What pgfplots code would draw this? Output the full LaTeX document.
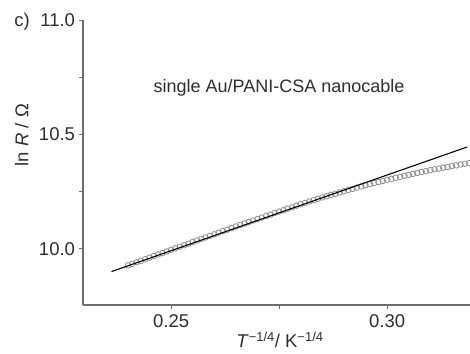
\documentclass[border=0pt]{standalone}
\usepackage{pgfplots}
\pgfplotsset{compat=1.18}
\usepackage{fontspec}
\setmainfont{Liberation Sans}
\definecolor{axisgray}{HTML}{6E6E6E}
\definecolor{labelgray}{HTML}{2E2E2E}
\definecolor{markgray}{HTML}{8C8C8C}
\begin{document}
\begin{tikzpicture}
\begin{axis}[
  scale only axis, width=387bp, height=285bp,
  xmin=0.2296, xmax=0.3192, ymin=9.755, ymax=11.0,
  axis x line=bottom, axis y line=left,
  axis line style={-, draw=axisgray, line width=1.1bp},
  tick style={draw=axisgray, line width=0.9bp},
  tick align=outside,
  major tick length=4bp, minor tick length=4bp,
  xtick={0.25,0.30}, xticklabels={0.25,0.30},
  minor xtick={0.275},
  ytick={10.0,10.5,11.0}, yticklabels={10.0,10.5,11.0},
  minor ytick={10.25,10.75},
  tick label style={font=\fontsize{18.5bp}{22bp}\selectfont, text=labelgray},
  xticklabel style={yshift=-2bp},
  yticklabel style={xshift=-0.5bp},
  label style={font=\fontsize{18.5bp}{22bp}\selectfont, text=labelgray},
  xlabel={\textit{T}\textsuperscript{−1/4}/ K\textsuperscript{−1/4}},
  xlabel style={at={(axis description cs:0.509,-0.094)}, anchor=north, inner sep=0pt},
  ylabel={ln \textit{R} / Ω},
  ylabel style={at={(axis description cs:-0.158,0.596)}, anchor=center, inner sep=0pt},
  clip mode=individual,
]
\addplot[only marks, mark=o, mark size=2.8bp, draw=markgray, mark options={line width=0.8bp, draw=markgray}] coordinates {
(0.240,9.928) (0.241,9.935) (0.242,9.942) (0.243,9.948) (0.244,9.955)
(0.245,9.962) (0.246,9.969) (0.247,9.976) (0.248,9.982) (0.249,9.989)
(0.250,9.996) (0.251,10.003) (0.252,10.010) (0.253,10.016) (0.254,10.023)
(0.255,10.030) (0.256,10.037) (0.257,10.044) (0.258,10.050) (0.259,10.057)
(0.260,10.064) (0.261,10.071) (0.262,10.078) (0.263,10.084) (0.264,10.091)
(0.265,10.098) (0.266,10.105) (0.267,10.111) (0.268,10.118) (0.269,10.124)
(0.270,10.131) (0.271,10.137) (0.272,10.144) (0.273,10.150) (0.274,10.157)
(0.275,10.163) (0.276,10.169) (0.277,10.176) (0.278,10.182) (0.279,10.189)
(0.280,10.195) (0.281,10.201) (0.282,10.207) (0.283,10.213) (0.284,10.219)
(0.285,10.225) (0.286,10.230) (0.287,10.236) (0.288,10.241) (0.289,10.247)
(0.290,10.252) (0.291,10.257) (0.292,10.262) (0.293,10.268) (0.294,10.273)
(0.295,10.278) (0.296,10.283) (0.297,10.288) (0.298,10.292) (0.299,10.297)
(0.300,10.302) (0.301,10.306) (0.302,10.311) (0.303,10.315) (0.304,10.320)
(0.305,10.324) (0.306,10.328) (0.307,10.332) (0.308,10.336) (0.309,10.340)
(0.310,10.344) (0.311,10.348) (0.312,10.351) (0.313,10.355) (0.314,10.358)
(0.315,10.362) (0.316,10.365) (0.317,10.369) (0.318,10.372) (0.319,10.375)
};
\addplot[black, line width=1.1bp] coordinates {(0.2362,9.901) (0.3185,10.445)};
\node[font=\fontsize{18bp}{22bp}\selectfont, text=labelgray] at (axis cs:0.2750,10.703) {single Au/PANI-CSA nanocable};
\end{axis}
\node[font=\fontsize{18.5bp}{22bp}\selectfont, text=labelgray, inner sep=0pt] at ([xshift=-61bp,yshift=-2bp]current axis.north west) {c)};
\pgfresetboundingbox
\path[use as bounding box] ([xshift=-83bp,yshift=-48bp]current axis.south west) rectangle ([yshift=20bp]current axis.north east);
\end{tikzpicture}
\end{document}
